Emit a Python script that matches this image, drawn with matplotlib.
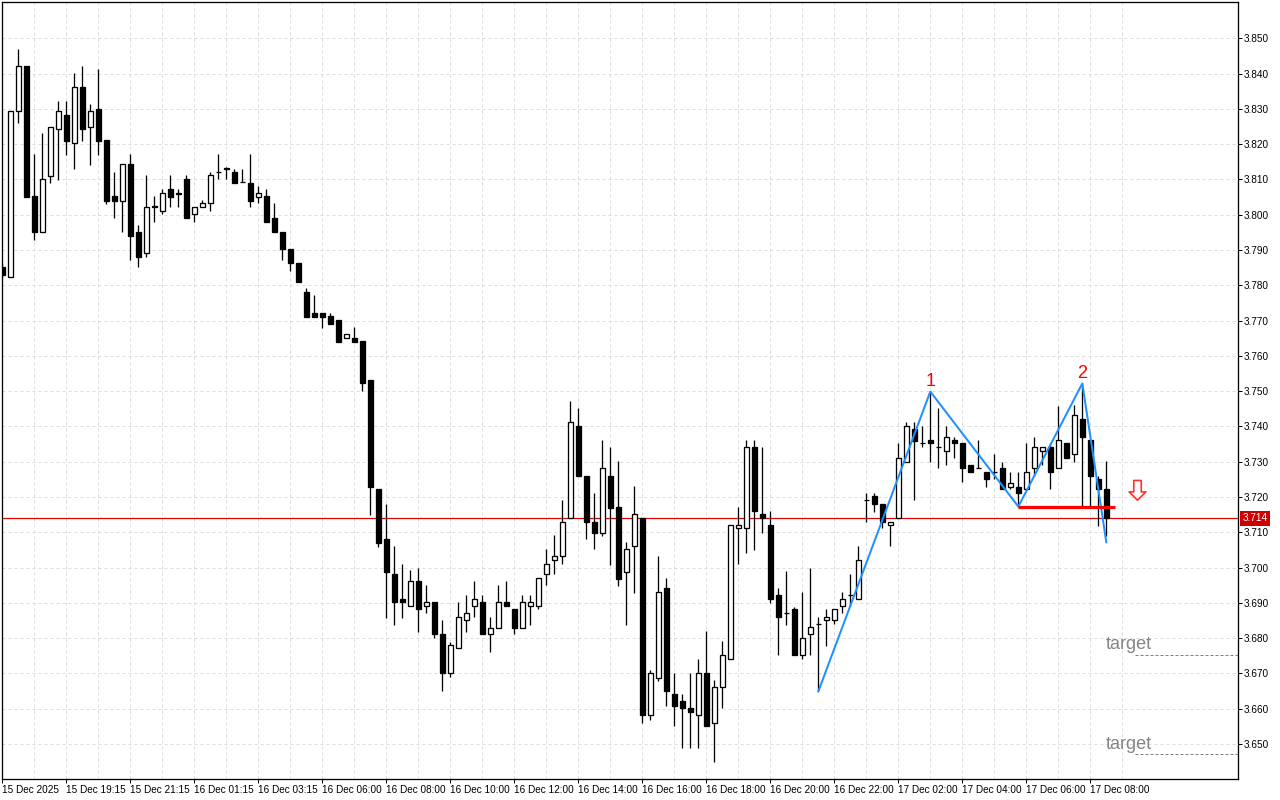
import matplotlib
matplotlib.use('Agg')
import matplotlib.pyplot as plt
from matplotlib.patches import Rectangle
import matplotlib.transforms as mtransforms

# ---------------- data ----------------
opens = [
    3.7852, 3.7824, 3.8293, 3.8421, 3.8054, 3.7950, 3.8110, 3.8242, 3.8282, 3.8202,
    3.8361, 3.8250, 3.8301, 3.8212, 3.8053, 3.8040, 3.8143, 3.7950, 3.7891, 3.8021,
    3.8012, 3.8072, 3.8061, 3.8100, 3.8001, 3.8021, 3.8032, 3.8120, 3.8131, 3.8121,
    3.8093, 3.8091, 3.8051, 3.8053, 3.7992, 3.7950, 3.7902, 3.7862, 3.7780, 3.7722,
    3.7722, 3.7713, 3.7702, 3.7650, 3.7650, 3.7642, 3.7532, 3.7222, 3.7080, 3.6982,
    3.6911, 3.6892, 3.6961, 3.6892, 3.6902, 3.6811, 3.6701, 3.6772, 3.6852, 3.6892,
    3.6902, 3.6811, 3.6830, 3.6902, 3.6882, 3.6830, 3.6892, 3.6892, 3.6982, 3.7022,
    3.7033, 3.7140, 3.7401, 3.7261, 3.7130, 3.7099, 3.7261, 3.7171, 3.6989, 3.7060,
    3.7140, 3.6581, 3.6688, 3.6942, 3.6642, 3.6622, 3.6602, 3.6581, 3.6701, 3.6561,
    3.6661, 3.6740, 3.7112, 3.7112, 3.7341, 3.7151, 3.7120, 3.6922, 3.6871, 3.6882,
    3.6752, 3.6811, 3.6840, 3.6852, 3.6852, 3.6890, 3.6922, 3.6910, 3.7192, 3.7203,
    3.7180, 3.7121, 3.7140, 3.7300, 3.7392, 3.7352, 3.7362, 3.7341, 3.7331, 3.7362,
    3.7352, 3.7291, 3.7282, 3.7270, 3.7270, 3.7282, 3.7229, 3.7229, 3.7222, 3.7282,
    3.7331, 3.7341, 3.7282, 3.7352, 3.7321, 3.7421, 3.7362, 3.7251, 3.7222]
highs = [
    3.7860, 3.8294, 3.8471, 3.8421, 3.8172, 3.8231, 3.8250, 3.8322, 3.8322, 3.8401,
    3.8421, 3.8314, 3.8412, 3.8212, 3.8121, 3.8143, 3.8172, 3.7971, 3.8112, 3.8053,
    3.8072, 3.8112, 3.8074, 3.8112, 3.8021, 3.8042, 3.8121, 3.8172, 3.8135, 3.8131,
    3.8131, 3.8172, 3.8081, 3.8072, 3.8032, 3.7950, 3.7902, 3.7862, 3.7792, 3.7773,
    3.7722, 3.7722, 3.7702, 3.7661, 3.7683, 3.7642, 3.7532, 3.7222, 3.7180, 3.7061,
    3.7010, 3.6992, 3.6999, 3.6951, 3.6902, 3.6852, 3.6790, 3.6902, 3.6922, 3.6961,
    3.6922, 3.6859, 3.6951, 3.6961, 3.6882, 3.6922, 3.6922, 3.6970, 3.7052, 3.7093,
    3.7192, 3.7472, 3.7452, 3.7261, 3.7211, 3.7362, 3.7343, 3.7302, 3.7072, 3.7231,
    3.7140, 3.6710, 3.7033, 3.6970, 3.6701, 3.6642, 3.6701, 3.6740, 3.6821, 3.6682,
    3.6792, 3.7120, 3.7171, 3.7362, 3.7362, 3.7341, 3.7161, 3.6942, 3.6991, 3.6889,
    3.6930, 3.6999, 3.6859, 3.6882, 3.6882, 3.6930, 3.6982, 3.7061, 3.7212, 3.7212,
    3.7180, 3.7130, 3.7352, 3.7412, 3.7412, 3.7401, 3.7499, 3.7452, 3.7401, 3.7371,
    3.7352, 3.7291, 3.7362, 3.7270, 3.7321, 3.7300, 3.7270, 3.7270, 3.7352, 3.7371,
    3.7341, 3.7352, 3.7458, 3.7352, 3.7461, 3.7522, 3.7362, 3.7261, 3.7302]
lows = [
    3.7820, 3.7824, 3.8261, 3.8051, 3.7928, 3.7950, 3.8091, 3.8098, 3.8169, 3.8131,
    3.8210, 3.8142, 3.8169, 3.8030, 3.7992, 3.7950, 3.7872, 3.7851, 3.7881, 3.7980,
    3.8001, 3.8021, 3.8021, 3.7992, 3.7980, 3.8021, 3.8012, 3.8100, 3.8100, 3.8091,
    3.8093, 3.8021, 3.8032, 3.7980, 3.7950, 3.7872, 3.7841, 3.7810, 3.7711, 3.7711,
    3.7680, 3.7691, 3.7640, 3.7650, 3.7640, 3.7501, 3.7149, 3.7059, 3.6858, 3.6838,
    3.6858, 3.6892, 3.6819, 3.6871, 3.6800, 3.6649, 3.6690, 3.6772, 3.6819, 3.6859,
    3.6811, 3.6760, 3.6830, 3.6890, 3.6811, 3.6830, 3.6838, 3.6882, 3.6951, 3.6982,
    3.7010, 3.7140, 3.7261, 3.7080, 3.7052, 3.7091, 3.7008, 3.6949, 3.6838, 3.6929,
    3.6561, 3.6569, 3.6679, 3.6609, 3.6550, 3.6490, 3.6490, 3.6490, 3.6550, 3.6450,
    3.6602, 3.6740, 3.7010, 3.7041, 3.7050, 3.7099, 3.6901, 3.6752, 3.6838, 3.6752,
    3.6740, 3.6752, 3.6649, 3.6779, 3.6840, 3.6871, 3.6890, 3.6910, 3.7130, 3.7159,
    3.7112, 3.7060, 3.7140, 3.7300, 3.7192, 3.7341, 3.7300, 3.7282, 3.7291, 3.7310,
    3.7244, 3.7270, 3.7282, 3.7229, 3.7250, 3.7222, 3.7222, 3.7173, 3.7222, 3.7261,
    3.7291, 3.7222, 3.7282, 3.7310, 3.7300, 3.7173, 3.7173, 3.7119, 3.7091]
closes = [
    3.7829, 3.8294, 3.8421, 3.8051, 3.7950, 3.8100, 3.8250, 3.8293, 3.8210, 3.8361,
    3.8242, 3.8293, 3.8210, 3.8040, 3.8040, 3.8143, 3.7941, 3.7881, 3.8021, 3.8024,
    3.8061, 3.8051, 3.8060, 3.7992, 3.8021, 3.8032, 3.8112, 3.8121, 3.8132, 3.8091,
    3.8093, 3.8040, 3.8061, 3.7980, 3.7950, 3.7902, 3.7862, 3.7810, 3.7711, 3.7711,
    3.7711, 3.7691, 3.7640, 3.7661, 3.7640, 3.7522, 3.7229, 3.7071, 3.6989, 3.6902,
    3.6902, 3.6961, 3.6882, 3.6902, 3.6811, 3.6701, 3.6781, 3.6859, 3.6871, 3.6911,
    3.6811, 3.6830, 3.6902, 3.6890, 3.6830, 3.6902, 3.6902, 3.6970, 3.7010, 3.7033,
    3.7130, 3.7412, 3.7261, 3.7130, 3.7099, 3.7282, 3.7170, 3.6968, 3.7052, 3.7151,
    3.6581, 3.6701, 3.6930, 3.6649, 3.6609, 3.6602, 3.6590, 3.6701, 3.6550, 3.6661,
    3.6752, 3.7120, 3.7120, 3.7341, 3.7161, 3.7140, 3.6910, 3.6859, 3.6872, 3.6752,
    3.6800, 3.6831, 3.6841, 3.6859, 3.6882, 3.6910, 3.6923, 3.7022, 3.7193, 3.7180,
    3.7130, 3.7130, 3.7310, 3.7401, 3.7360, 3.7353, 3.7352, 3.7342, 3.7371, 3.7352,
    3.7282, 3.7270, 3.7282, 3.7250, 3.7271, 3.7222, 3.7241, 3.7211, 3.7270, 3.7341,
    3.7341, 3.7270, 3.7362, 3.7310, 3.7433, 3.7371, 3.7261, 3.7222, 3.7140]

x_tick_bars = [0, 8, 16, 24, 32, 40, 48, 56, 64, 72, 80, 88, 96, 104, 112, 120, 128, 136]
x_tick_labels = ["15 Dec 2025", "15 Dec 19:15", "15 Dec 21:15", "16 Dec 01:15", "16 Dec 03:15",
                 "16 Dec 06:00", "16 Dec 08:00", "16 Dec 10:00", "16 Dec 12:00", "16 Dec 14:00",
                 "16 Dec 16:00", "16 Dec 18:00", "16 Dec 20:00", "16 Dec 22:00", "17 Dec 02:00",
                 "17 Dec 04:00", "17 Dec 06:00", "17 Dec 08:00"]
y_ticks = [3.650, 3.660, 3.670, 3.680, 3.690, 3.700, 3.710, 3.720, 3.730, 3.740,
           3.750, 3.760, 3.770, 3.780, 3.790, 3.800, 3.810, 3.820, 3.830, 3.840, 3.850]

zigzag_bars = [102, 116, 127, 135, 138]
zigzag_prices = [3.6649, 3.7499, 3.7173, 3.7522, 3.7072]
peak_labels = ["1", "2"]
peak_bars = [116, 135]
peak_prices = [3.7499, 3.7522]

neck_price = 3.7173
neck_bars = [127, 139.1]
current_price = 3.714
target_prices = [3.6753, 3.6471]
target_line_start = 141.6
target_text_bar = 137.9
arrow_bar = 141.9
arrow_top = 3.7247
arrow_bottom = 3.7191

# ---------------- figure ----------------
W, H = 1280, 800
fig = plt.figure(figsize=(W / 100, H / 100), dpi=100)
ax = fig.add_axes([2 / W, 21 / H, 1236 / W, 777 / H])
ax.set_facecolor('white')
px = 0.72  # one pixel in points
tick_font = 'Liberation Sans'

ax.set_xlim(-0.04, -0.04 + 1236 / 8)
ax.set_ylim(3.6401, 3.8603)

# grid
ax.set_xticks(x_tick_bars)
ax.set_xticks([b + 4 for b in x_tick_bars], minor=True)
ax.set_yticks(y_ticks)
ax.grid(True, which='both', color='#dcdcdc', linestyle=(0, (3, 3)), linewidth=px, zorder=0)
ax.set_axisbelow(True)

# current price line
ax.axhline(current_price, color='#e00000', linewidth=px * 1.2, zorder=1.5)

# candles
bw = 0.56
for i, (o, h, l, c) in enumerate(zip(opens, highs, lows, closes)):
    ax.vlines(i, l, h, color='black', linewidth=px * 1.3, zorder=2)
    bull = c >= o
    ax.add_patch(Rectangle((i - bw / 2, min(o, c)), bw, abs(c - o),
                           facecolor='white' if bull else 'black',
                           edgecolor='black', linewidth=px * 1.3, zorder=3))

# zigzag
ax.plot(zigzag_bars, zigzag_prices, color='#1e90ff', linewidth=2.0 * px, zorder=4)
for lab, b, p in zip(peak_labels, peak_bars, peak_prices):
    ax.annotate(lab, xy=(b, p), xytext=(0, 1), textcoords='offset points',
                ha='center', va='bottom', color='#ff0000', fontsize=13,
                family='Liberation Sans', zorder=5)

# neckline
ax.hlines(neck_price, neck_bars[0], neck_bars[1], color='#ff0000', linewidth=3.2 * px, zorder=5)

# targets
for tp in target_prices:
    ax.hlines(tp, target_line_start, ax.get_xlim()[1], color='#808080', linewidth=px,
              linestyle=(0, (3, 2)), zorder=4)
    ax.annotate('target', xy=(target_text_bar, tp), xytext=(0, 4), textcoords='offset points',
                ha='left', va='baseline', color='#858585', fontsize=13,
                family='Liberation Sans', zorder=5)

# hollow down arrow
ax.annotate('', xy=(arrow_bar, arrow_bottom), xytext=(arrow_bar, arrow_top),
            arrowprops=dict(arrowstyle='simple,head_length=0.5,head_width=1.0,tail_width=0.45',
                            mutation_scale=12, facecolor='white', edgecolor='#ff3030',
                            linewidth=1.2, shrinkA=0, shrinkB=0),
            zorder=5)

# axes styling
for s in ax.spines.values():
    s.set_color('black')
    s.set_linewidth(px * 1.3)
ax.yaxis.tick_right()
ax.set_yticklabels([f"{v:.3f}" for v in y_ticks], family=tick_font)
ax.tick_params(axis='y', which='major', direction='out', length=4 * px, width=px,
               labelsize=7.2, pad=1.5, colors='black')
ax.set_xticklabels(x_tick_labels, family=tick_font)
for t in ax.get_xticklabels():
    t.set_ha('left')
ax.tick_params(axis='x', which='major', direction='out', length=4 * px, width=px,
               labelsize=7.2, pad=1.5)
ax.tick_params(axis='x', which='minor', length=0)

# current price label
trans = mtransforms.blended_transform_factory(ax.transAxes, ax.transData)
ax.text(1.0035, current_price, '3.714', transform=trans, color='white', fontsize=7.2,
        family=tick_font, ha='left', va='center', zorder=10, clip_on=False,
        bbox=dict(boxstyle='square,pad=0.25', facecolor='#cc0000', edgecolor='none'))

fig.savefig('out.png', dpi=100)
